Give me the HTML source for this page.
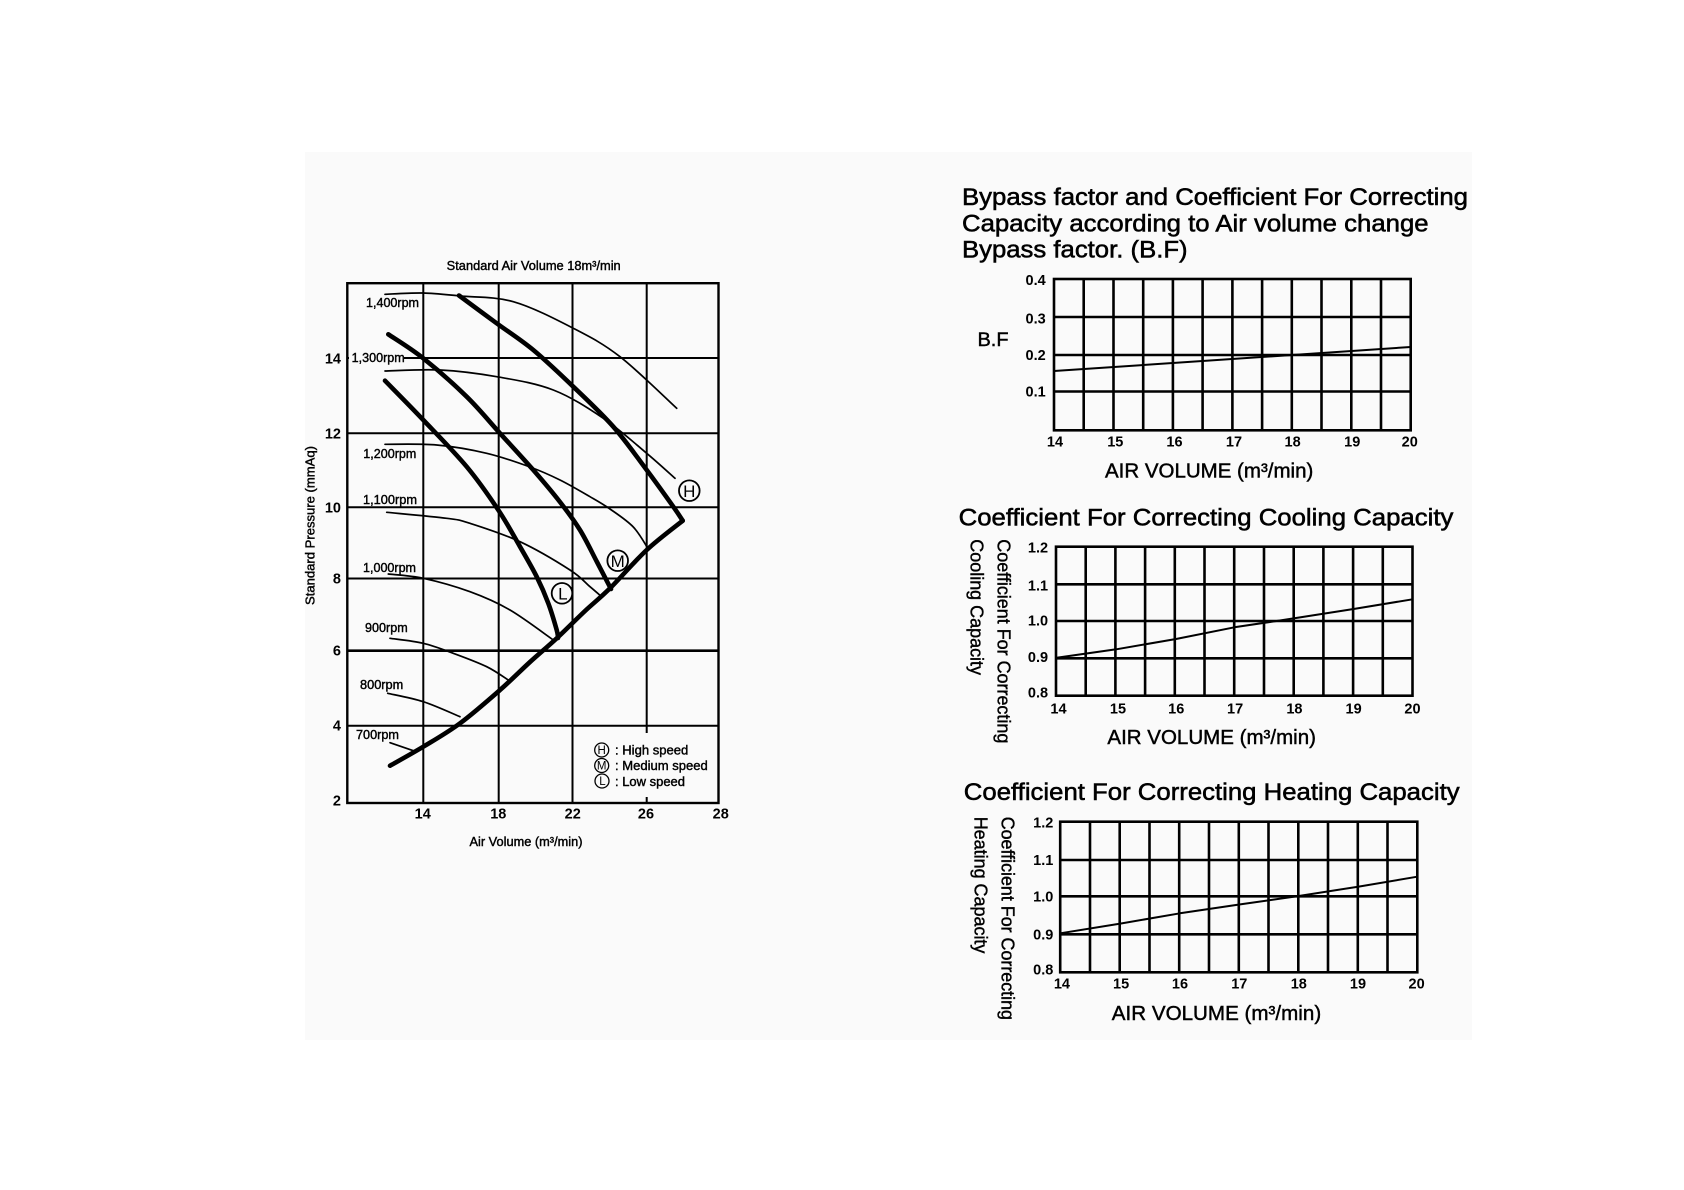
<!DOCTYPE html>
<html>
<head>
<meta charset="utf-8">
<style>
  html,body{margin:0;padding:0;background:#fff;}
  svg{display:block;}
  text{font-family:"Liberation Sans",Arial,sans-serif;fill:#000;}
  .tk{font-size:14.5px;font-weight:bold;}
  .sm{font-size:12.5px;stroke:#000;stroke-width:0.4;}
  .ti{font-size:24.5px;stroke:#000;stroke-width:0.55;}
  .ax{font-size:20.5px;stroke:#000;stroke-width:0.45;}
  .rl{font-size:18px;stroke:#000;stroke-width:0.4;}
</style>
</head>
<body>
<svg width="1684" height="1190" viewBox="0 0 1684 1190" xmlns="http://www.w3.org/2000/svg">
  <rect width="1684" height="1190" fill="#ffffff"/>
  <rect x="305" y="152" width="1167" height="888" fill="#fafafa"/>

  <!-- ================= LEFT CHART ================= -->
  <g stroke="#000" fill="none">
    <path d="M423.3 283V803 M498.7 283V803 M572.5 283V803 M646.7 283V803" stroke-width="2"/>
    <path d="M347 358H718 M347 433.3H718 M347 507.3H718 M347 578.5H718 M347 725.7H718" stroke-width="2"/>
    <path d="M347 650.7H718" stroke-width="2.6"/>
  </g>
  <rect x="591" y="733" width="125" height="64" fill="#fafafa"/>
  <rect x="349" y="351" width="55" height="13" fill="#fafafa"/>
  <rect x="347.3" y="283.2" width="371.2" height="519.8" fill="none" stroke="#000" stroke-width="2.4"/>

  <!-- thin rpm curves -->
  <g stroke="#000" fill="none" stroke-width="1.7" stroke-linejoin="round" stroke-linecap="round">
    <polyline class="s" points="385,294.3 423,293 460,296 513.3,301.7 573.3,328.3 620,356.7 676.7,408.3"/>
    <polyline class="s" points="385,371 440,370 496.7,376.7 553.3,390 603.3,418.3 646.7,453.3 675,478.3"/>
    <polyline class="s" points="385,444.3 436.7,445 486.7,453.3 530,467 560,480 590,496.7 610,509 633.3,527 648.3,549"/>
    <polyline class="s" points="386.7,512.3 446.7,518.3 470,523.3 520,541.7 570,570 590,586.7 602,597"/>
    <polyline class="s" points="388.3,574 423.3,578.3 470,591.7 510,610 553.3,640"/>
    <polyline class="s" points="390,638.3 423.3,643.3 453.3,653.3 486.7,666.7 509.3,680.7"/>
    <polyline class="s" points="387.7,693.3 423.3,701.7 460,716.7"/>
    <polyline class="s" points="390,742.7 413.3,750.7"/>
  </g>
  <!-- thick speed curves -->
  <g stroke="#000" fill="none" stroke-width="4.6" stroke-linejoin="round" stroke-linecap="round">
    <polyline class="s" points="390,765.7 423.3,746.7 460,723.3 500,690 530,662 556.7,638.3 585,611 610,588.3 646.7,550 682.7,520.7"/>
    <polyline class="s" points="682.7,520.7 673.3,506.7 646.7,470 613.3,426.7 573.3,386.7 533.3,350 496.7,323.3 459,295.5"/>
    <polyline class="s" points="388.3,334.3 423.3,358.3 466.7,396.7 500,433.3 533.3,470 560,502 580,530 597,562 611,589"/>
    <polyline class="s" points="385,380.7 423.3,420 466.7,466.7 498.3,510 520,546.7 536.7,576.7 548.3,603.3 556.7,630 558,638"/>
  </g>

  <!-- H M L markers -->
  <g fill="#fafafa" stroke="#000" stroke-width="1.8">
    <circle cx="689.3" cy="490.7" r="10.3"/>
    <circle cx="617.7" cy="560.7" r="10.3"/>
    <circle cx="562" cy="593.3" r="10.3"/>
  </g>
  <g font-size="17" text-anchor="middle">
    <text x="689.3" y="496.9">H</text>
    <text x="617.7" y="566.9">M</text>
    <text x="562.8" y="599.5">L</text>
  </g>

  <!-- legend -->
  <g fill="none" stroke="#000" stroke-width="1.3">
    <circle cx="601.7" cy="750" r="7"/>
    <circle cx="601.7" cy="765.5" r="7"/>
    <circle cx="602" cy="781" r="7"/>
  </g>
  <g font-size="11.5" text-anchor="middle">
    <text x="601.7" y="754.1">H</text>
    <text x="601.7" y="769.6">M</text>
    <text x="602.4" y="785.1">L</text>
  </g>
  <text class="sm" x="615" y="754.5" font-size="13" textLength="73.3" lengthAdjust="spacingAndGlyphs">: High speed</text>
  <text class="sm" x="615" y="770" font-size="13" textLength="92.7" lengthAdjust="spacingAndGlyphs">: Medium speed</text>
  <text class="sm" x="615" y="786" font-size="13" textLength="70" lengthAdjust="spacingAndGlyphs">: Low speed</text>

  <!-- rpm labels -->
  <text class="sm" x="366" y="306.8" textLength="53" lengthAdjust="spacingAndGlyphs">1,400rpm</text>
  <text class="sm" x="351.7" y="361.8" textLength="53" lengthAdjust="spacingAndGlyphs">1,300rpm</text>
  <text class="sm" x="363.3" y="457.8" textLength="53" lengthAdjust="spacingAndGlyphs">1,200rpm</text>
  <text class="sm" x="363" y="503.8" textLength="54" lengthAdjust="spacingAndGlyphs">1,100rpm</text>
  <text class="sm" x="363" y="571.8" textLength="53" lengthAdjust="spacingAndGlyphs">1,000rpm</text>
  <text class="sm" x="365" y="632.2" textLength="42.7" lengthAdjust="spacingAndGlyphs">900rpm</text>
  <text class="sm" x="360" y="688.8" textLength="43.3" lengthAdjust="spacingAndGlyphs">800rpm</text>
  <text class="sm" x="356" y="738.8" textLength="43" lengthAdjust="spacingAndGlyphs">700rpm</text>

  <!-- left chart ticks -->
  <g class="tk" text-anchor="end">
    <text x="341" y="363.3">14</text>
    <text x="341" y="438.3">12</text>
    <text x="341" y="512.3">10</text>
    <text x="341" y="583.3">8</text>
    <text x="341" y="655.7">6</text>
    <text x="341" y="730.7">4</text>
    <text x="341" y="805.7">2</text>
  </g>
  <g class="tk" text-anchor="middle">
    <text x="422.7" y="818.5">14</text>
    <text x="498.3" y="818.5">18</text>
    <text x="572.7" y="818.5">22</text>
    <text x="646" y="818.5">26</text>
    <text x="720.7" y="818.5">28</text>
  </g>
  <text class="sm" x="533.7" y="270" text-anchor="middle" textLength="174" lengthAdjust="spacingAndGlyphs">Standard Air Volume 18m³/min</text>
  <text class="sm" x="526" y="846" text-anchor="middle" textLength="113" lengthAdjust="spacingAndGlyphs">Air Volume (m³/min)</text>
  <text class="sm" transform="translate(314.5,525.5) rotate(-90)" text-anchor="middle" textLength="159" lengthAdjust="spacingAndGlyphs">Standard Pressure (mmAq)</text>

  <!-- ================= BF CHART ================= -->
  <text class="ti" x="962" y="205" textLength="506" lengthAdjust="spacingAndGlyphs">Bypass factor and Coefficient For Correcting</text>
  <text class="ti" x="962" y="231.7" textLength="466.6" lengthAdjust="spacingAndGlyphs">Capacity according to Air volume change</text>
  <text class="ti" x="962" y="257.3" textLength="225.6" lengthAdjust="spacingAndGlyphs">Bypass factor. (B.F)</text>

  <g stroke="#000" fill="none" stroke-width="2.6">
    <path d="M1083.7 279V430.3 M1113.5 279V430.3 M1143.2 279V430.3 M1172.9 279V430.3 M1202.6 279V430.3 M1232.4 279V430.3 M1262.1 279V430.3 M1291.8 279V430.3 M1321.5 279V430.3 M1351.3 279V430.3 M1381 279V430.3"/>
    <path d="M1054 317H1410.7 M1054 355H1410.7 M1054 391.5H1410.7"/>
    <rect x="1054" y="279" width="356.7" height="151.3"/>
  </g>
  <polyline points="1054,371 1410.7,347" stroke="#000" stroke-width="2" fill="none"/>
  <g class="tk" text-anchor="end">
    <text x="1045.7" y="285">0.4</text>
    <text x="1045.7" y="323.7">0.3</text>
    <text x="1045.7" y="360">0.2</text>
    <text x="1045.7" y="396.7">0.1</text>
  </g>
  <text x="977.5" y="346" font-size="19" textLength="31" lengthAdjust="spacingAndGlyphs" stroke="#000" stroke-width="0.45">B.F</text>
  <g class="tk" text-anchor="middle">
    <text x="1055" y="446.7">14</text>
    <text x="1115.3" y="446.7">15</text>
    <text x="1174.5" y="446.7">16</text>
    <text x="1234" y="446.7">17</text>
    <text x="1292.6" y="446.7">18</text>
    <text x="1352.2" y="446.7">19</text>
    <text x="1409.7" y="446.7">20</text>
  </g>
  <text class="ax" x="1105" y="477.3" textLength="208.3" lengthAdjust="spacingAndGlyphs">AIR VOLUME (m³/min)</text>

  <!-- ================= COOLING CHART ================= -->
  <text class="ti" x="958.6" y="525.5" textLength="494.8" lengthAdjust="spacingAndGlyphs">Coefficient For Correcting Cooling Capacity</text>
  <g stroke="#000" fill="none" stroke-width="2.6">
    <path d="M1085.7 546.7V695.7 M1115.4 546.7V695.7 M1145.1 546.7V695.7 M1174.8 546.7V695.7 M1204.5 546.7V695.7 M1234.2 546.7V695.7 M1264 546.7V695.7 M1293.7 546.7V695.7 M1323.4 546.7V695.7 M1353.1 546.7V695.7 M1382.8 546.7V695.7"/>
    <path d="M1056 584.3H1412.5 M1056 621H1412.5 M1056 658.3H1412.5"/>
    <rect x="1056" y="546.7" width="356.5" height="149"/>
  </g>
  <polyline points="1056.7,657.7 1116.3,649.3 1176,639 1234.4,627.3 1294.4,618.3 1353.6,609 1412.5,599.3" stroke="#000" stroke-width="2" fill="none" stroke-linejoin="round"/>
  <g class="tk" text-anchor="end">
    <text x="1048.1" y="552.3">1.2</text>
    <text x="1048.1" y="590.3">1.1</text>
    <text x="1048.1" y="625.7">1.0</text>
    <text x="1048.1" y="662">0.9</text>
    <text x="1048.1" y="697.3">0.8</text>
  </g>
  <g class="tk" text-anchor="middle">
    <text x="1058.5" y="713.3">14</text>
    <text x="1118" y="713.3">15</text>
    <text x="1176.2" y="713.3">16</text>
    <text x="1235.1" y="713.3">17</text>
    <text x="1294.4" y="713.3">18</text>
    <text x="1353.6" y="713.3">19</text>
    <text x="1412.5" y="713.3">20</text>
  </g>
  <text class="ax" x="1107.4" y="744" textLength="208.6" lengthAdjust="spacingAndGlyphs">AIR VOLUME (m³/min)</text>
  <text class="rl" transform="translate(997.5,539.3) rotate(90)" textLength="204" lengthAdjust="spacingAndGlyphs">Coefficient For Correcting</text>
  <text class="rl" transform="translate(970.5,539.3) rotate(90)" textLength="135.7" lengthAdjust="spacingAndGlyphs">Cooling Capacity</text>

  <!-- ================= HEATING CHART ================= -->
  <text class="ti" x="963.8" y="800" textLength="495.8" lengthAdjust="spacingAndGlyphs">Coefficient For Correcting Heating Capacity</text>
  <g stroke="#000" fill="none" stroke-width="2.6">
    <path d="M1090 821.7V972.3 M1119.7 821.7V972.3 M1149.5 821.7V972.3 M1179.2 821.7V972.3 M1209 821.7V972.3 M1238.8 821.7V972.3 M1268.5 821.7V972.3 M1298.3 821.7V972.3 M1328 821.7V972.3 M1357.8 821.7V972.3 M1387.5 821.7V972.3"/>
    <path d="M1060.2 860H1417.3 M1060.2 896.3H1417.3 M1060.2 934.3H1417.3"/>
    <rect x="1060.2" y="821.7" width="357.1" height="150.6"/>
  </g>
  <polyline points="1060.2,933.3 1121,923.5 1180,913.3 1239.3,904.5 1298.8,896 1358,886.7 1417.3,876.7" stroke="#000" stroke-width="2" fill="none" stroke-linejoin="round"/>
  <g class="tk" text-anchor="end">
    <text x="1053.3" y="827.3">1.2</text>
    <text x="1053.3" y="865">1.1</text>
    <text x="1053.3" y="901.7">1.0</text>
    <text x="1053.3" y="939.3">0.9</text>
    <text x="1053.3" y="974.3">0.8</text>
  </g>
  <g class="tk" text-anchor="middle">
    <text x="1061.9" y="988.3">14</text>
    <text x="1121.1" y="988.3">15</text>
    <text x="1180" y="988.3">16</text>
    <text x="1239.3" y="988.3">17</text>
    <text x="1298.8" y="988.3">18</text>
    <text x="1358" y="988.3">19</text>
    <text x="1416.6" y="988.3">20</text>
  </g>
  <text class="ax" x="1111.8" y="1020" textLength="209.4" lengthAdjust="spacingAndGlyphs">AIR VOLUME (m³/min)</text>
  <text class="rl" transform="translate(1001.5,816.7) rotate(90)" textLength="203.3" lengthAdjust="spacingAndGlyphs">Coefficient For Correcting</text>
  <text class="rl" transform="translate(974.5,816.7) rotate(90)" textLength="136.7" lengthAdjust="spacingAndGlyphs">Heating Capacity</text>
</svg>
<script>
(function(){
  var NS='http://www.w3.org/2000/svg';
  var pls=document.querySelectorAll('polyline.s');
  for(var k=0;k<pls.length;k++){
    var pl=pls[k];
    var pts=pl.getAttribute('points').trim().split(/\s+/).map(function(p){return p.split(',').map(Number);});
    if(pts.length<3) continue;
    var d='M'+pts[0][0]+' '+pts[0][1];
    for(var i=0;i<pts.length-1;i++){
      var p0=pts[i-1]||pts[i],p1=pts[i],p2=pts[i+1],p3=pts[i+2]||p2;
      var c1x=p1[0]+(p2[0]-p0[0])/6,c1y=p1[1]+(p2[1]-p0[1])/6;
      var c2x=p2[0]-(p3[0]-p1[0])/6,c2y=p2[1]-(p3[1]-p1[1])/6;
      d+=' C'+c1x.toFixed(2)+' '+c1y.toFixed(2)+' '+c2x.toFixed(2)+' '+c2y.toFixed(2)+' '+p2[0]+' '+p2[1];
    }
    var path=document.createElementNS(NS,'path');
    path.setAttribute('d',d);
    pl.parentNode.replaceChild(path,pl);
  }
})();
</script>
</body>
</html>
